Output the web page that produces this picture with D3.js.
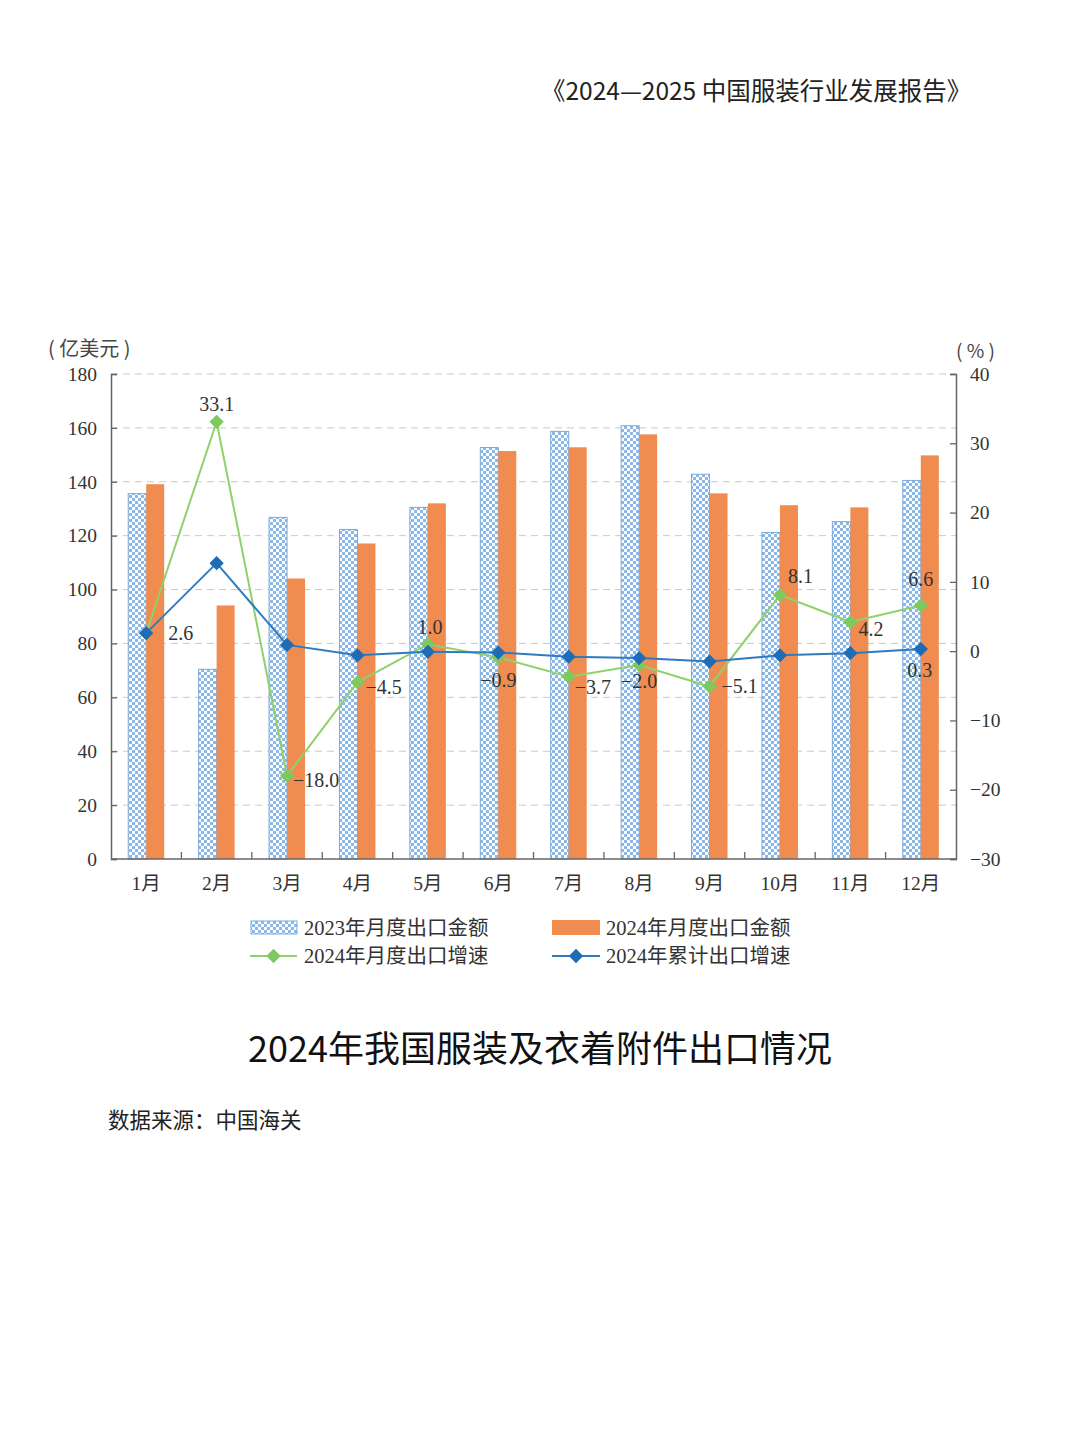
<!DOCTYPE html>
<html><head><meta charset="utf-8">
<script src="https://cdn.jsdelivr.net/npm/d3@7/dist/d3.min.js"></script>
<style>
html,body{margin:0;padding:0;background:#fff;}
svg{display:block;}
</style></head>
<body>
<script>
const months = ["1月","2月","3月","4月","5月","6月","7月","8月","9月","10月","11月","12月"];
const export2023 = [135.6,70.4,126.8,122.3,130.5,152.7,158.7,160.8,142.8,121.2,125.2,140.5];
const export2024 = [139.1,94.1,104.1,117.1,132.0,151.4,152.8,157.6,135.7,131.3,130.5,149.8];
const monthlyGrowth = [2.6,33.1,-18.0,-4.5,1.0,-0.9,-3.7,-2.0,-5.1,8.1,4.2,6.6];
const cumulativeGrowth = [2.6,12.7,0.9,-0.6,-0.1,-0.2,-0.8,-1.0,-1.5,-0.6,-0.3,0.3];
const leftTicks = [0,20,40,60,80,100,120,140,160,180];
const rightTicks = [-30,-20,-10,0,10,20,30,40];
const legendLabels = ["2023年月度出口金额","2024年月度出口金额","2024年月度出口增速","2024年累计出口增速"];

const W=1080,H=1443;
const svg=d3.select("body").append("svg").attr("width",W).attr("height",H);
const serif="'Liberation Serif','Noto Sans CJK SC',serif";
const sans="'Noto Sans CJK SC','Noto Sans',sans-serif";

const defs=svg.append("defs");
const pat=defs.append("pattern").attr("id","chk").attr("patternUnits","userSpaceOnUse").attr("width",6).attr("height",6);
pat.append("rect").attr("width",6).attr("height",6).attr("fill","#ffffff");
pat.append("rect").attr("width",3).attr("height",3).attr("fill","#8db8e6");
pat.append("rect").attr("x",3).attr("y",3).attr("width",3).attr("height",3).attr("fill","#8db8e6");

const L=111,R=956,T=374,B=859;
const x=d3.scaleBand().domain(months).range([L,R]).paddingInner(0).paddingOuter(0);
const yL=d3.scaleLinear().domain([0,180]).range([B,T]);
const yR=d3.scaleLinear().domain([-30,40]).range([B,T]);

// header
svg.append("text").attr("x",541).attr("y",100).attr("text-anchor","start").attr("font-family",sans).attr("font-size",24.5).attr("fill","#222").text("《2024—2025 中国服装行业发展报告》");

// grid
svg.append("g").selectAll("line").data(leftTicks.filter(d=>d>0)).join("line")
 .attr("x1",L).attr("x2",R).attr("y1",d=>yL(d)).attr("y2",d=>yL(d))
 .attr("stroke","#c8c8c8").attr("stroke-width",1).attr("stroke-dasharray","7,5");

// bars
const bw=18;
svg.append("g").selectAll("rect").data(export2023).join("rect")
 .attr("x",(d,i)=>x(months[i])+x.bandwidth()/2-bw).attr("y",d=>yL(d)).attr("width",bw).attr("height",d=>B-yL(d))
 .attr("fill","url(#chk)").attr("stroke","#7aa9db").attr("stroke-width",1);
svg.append("g").selectAll("rect").data(export2024).join("rect")
 .attr("x",(d,i)=>x(months[i])+x.bandwidth()/2).attr("y",d=>yL(d)).attr("width",bw).attr("height",d=>B-yL(d))
 .attr("fill","#f08c4f");

// axes
const axCol="#666";
const gl=svg.append("g").attr("transform",`translate(${L},0)`).call(d3.axisLeft(yL).tickValues(leftTicks).tickSize(-6).tickPadding(14).tickFormat(d3.format("d")));
const gr=svg.append("g").attr("transform",`translate(${R},0)`).call(d3.axisRight(yR).tickValues(rightTicks).tickSize(-6).tickPadding(14).tickFormat(d=>d<0?"−"+Math.abs(d):d));
const gb=svg.append("g").attr("transform",`translate(0,${B})`).call(d3.axisBottom(x).tickSize(0).tickPadding(17));
[gl,gr,gb].forEach(g=>{
 g.select(".domain").attr("stroke",axCol).attr("stroke-width",1.5);
 g.selectAll(".tick line").attr("stroke",axCol).attr("stroke-width",1.3);
 g.selectAll("text").attr("font-family",serif).attr("font-size",19.5).attr("fill","#333");
});
gb.select(".domain").attr("d",`M${L},0H${R}`);
// category boundary ticks on bottom
svg.append("g").selectAll("line").data(months.slice(1)).join("line")
 .attr("x1",d=>x(d)).attr("x2",d=>x(d)).attr("y1",B).attr("y2",B-7).attr("stroke",axCol).attr("stroke-width",1.3);

// unit labels
svg.append("text").attr("x",48).attr("y",356).attr("font-family",sans).attr("font-size",20).attr("fill","#444").attr("xml:space","preserve").text("( 亿美元 )");
svg.append("text").attr("x",956).attr("y",358).attr("font-family",sans).attr("font-size",19).attr("fill","#444").attr("xml:space","preserve").text("( % )");

// lines
const cx=i=>x(months[i])+x.bandwidth()/2;
const line=d3.line().x((d,i)=>cx(i)).y(d=>yR(d));
svg.append("path").datum(monthlyGrowth).attr("d",line).attr("fill","none").attr("stroke","#8fd16c").attr("stroke-width",2);
svg.append("path").datum(cumulativeGrowth).attr("d",line).attr("fill","none").attr("stroke","#2e7bc0").attr("stroke-width",2);
const diamond=d3.symbol().type(d3.symbolDiamond2).size(130);
svg.append("g").selectAll("path").data(monthlyGrowth).join("path")
 .attr("transform",(d,i)=>`translate(${cx(i)},${yR(d)})`).attr("d",diamond).attr("fill","#7dc95e");
svg.append("g").selectAll("path").data(cumulativeGrowth).join("path")
 .attr("transform",(d,i)=>`translate(${cx(i)},${yR(d)})`).attr("d",diamond).attr("fill","#1f6bb5");

// data labels (offsets relative to point)
const fmt=v=>(v<0?"−":"")+Math.abs(v).toFixed(1);
const labelOffsets=[[22,0,"start"],[0,-18,"middle"],[6,4,"start"],[8,5,"start"],[2,-17,"middle"],[0,23,"middle"],[6,10,"start"],[0,16,"middle"],[12,0,"start"],[8,-19,"start"],[8,7,"start"],[0,-26,"middle"]];
const lg=svg.append("g").attr("font-family",serif).attr("font-size",20).attr("fill","#333");
monthlyGrowth.forEach((v,i)=>{
 const o=labelOffsets[i];
 lg.append("text").attr("x",cx(i)+o[0]).attr("y",yR(v)+o[1]).attr("dy","0.35em").attr("text-anchor",o[2]).text(fmt(v));
});
// cumulative Dec label
lg.append("text").attr("x",cx(11)-1).attr("y",yR(cumulativeGrowth[11])+21).attr("dy","0.35em").attr("text-anchor","middle").text(fmt(cumulativeGrowth[11]));

// legend
const lgd=svg.append("g").attr("font-family",serif).attr("font-size",20.5).attr("fill","#333");
lgd.append("rect").attr("x",251).attr("y",921).attr("width",46).attr("height",13).attr("fill","url(#chk)").attr("stroke","#7aa9db");
lgd.append("text").attr("x",304).attr("y",928).attr("dy","0.35em").text(legendLabels[0]);
lgd.append("rect").attr("x",552).attr("y",920).attr("width",48).attr("height",15).attr("fill","#f08c4f");
lgd.append("text").attr("x",606).attr("y",928).attr("dy","0.35em").text(legendLabels[1]);
lgd.append("line").attr("x1",250).attr("x2",297).attr("y1",956).attr("y2",956).attr("stroke","#8fd16c").attr("stroke-width",2);
lgd.append("path").attr("transform","translate(273.5,956)").attr("d",diamond).attr("fill","#7dc95e");
lgd.append("text").attr("x",304).attr("y",956).attr("dy","0.35em").text(legendLabels[2]);
lgd.append("line").attr("x1",552).attr("x2",600).attr("y1",956).attr("y2",956).attr("stroke","#2e7bc0").attr("stroke-width",2);
lgd.append("path").attr("transform","translate(576,956)").attr("d",diamond).attr("fill","#1f6bb5");
lgd.append("text").attr("x",606).attr("y",956).attr("dy","0.35em").text(legendLabels[3]);

// title & source
svg.append("text").attr("x",540).attr("y",1062).attr("text-anchor","middle").attr("font-family",sans).attr("font-size",36).attr("fill","#111").text("2024年我国服装及衣着附件出口情况");
svg.append("text").attr("x",108).attr("y",1128).attr("font-family",sans).attr("font-size",21.5).attr("fill","#222").text("数据来源：中国海关");
</script>
</body></html>
